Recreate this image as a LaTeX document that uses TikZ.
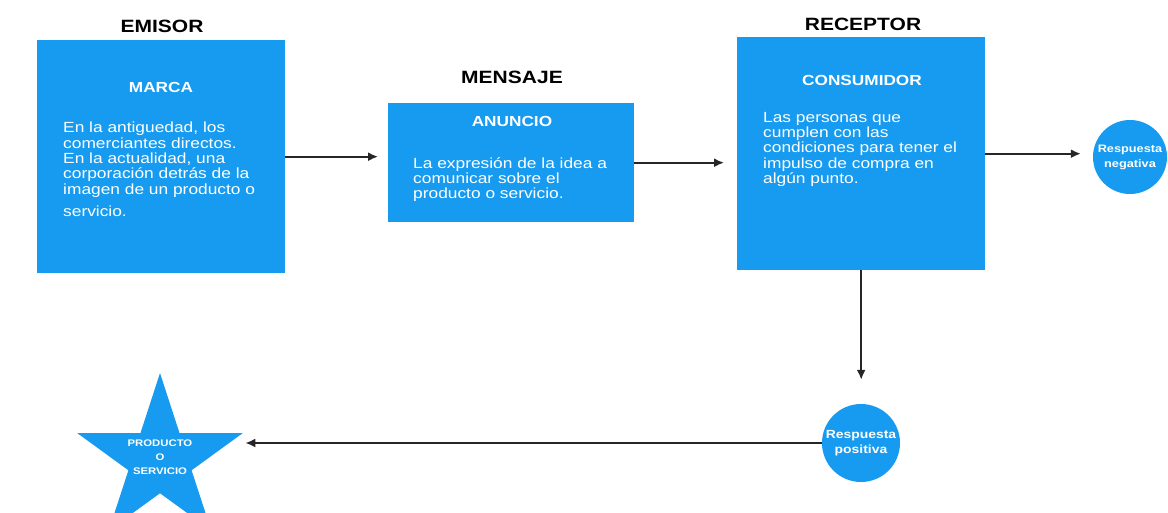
\documentclass[tikz,border=0pt]{standalone}
\usepackage{fontspec}
\setmainfont{Liberation Sans}[FakeStretch=1.18]
\usepackage{tikz}
\usetikzlibrary{shapes.geometric,arrows.meta,positioning}
\definecolor{azul}{RGB}{22,155,240}
\tikzset{
    caja/.style={fill=azul, inner sep=0pt, anchor=north west},
    cabeza/.style={inner sep=0pt, font=\fontsize{17.8}{20}\selectfont\bfseries},
    titulo/.style={inner sep=0pt, text=white, font=\fontsize{14.6}{16}\selectfont\bfseries},
    cuerpo/.style={text=white, align=left, inner sep=0pt, anchor=north west, font=\fontsize{14.7}{15.3}\selectfont},
    respuesta/.style={circle, fill=azul, text=white, align=center, inner sep=0pt, font=\fontsize{10.8}{15}\selectfont\bfseries},
    flecha/.style={-{Latex[length=10pt,width=9pt]}, line width=1.8pt, black!85}
}

\begin{document}
\begin{tikzpicture}[x=1pt, y=-1pt]
        \useasboundingbox (0,0) rectangle (1168,512);
        \node[caja, minimum width=248, minimum height=233] (marca) at (37,40) {};
        \node[caja, minimum width=246, minimum height=119] (anuncio) at (388,103) {};
        \node[caja, minimum width=248, minimum height=233] (consumidor) at (737,37) {};
        \foreach \nombre/\px/\py/\txt in {emisor/162/26/EMISOR, mensaje/512/77/MENSAJE, receptor/863/24/RECEPTOR} {
            \node[cabeza] (\nombre) at (\px,\py) {\txt};
        }
        \node[titulo] (marca-t) at (161,87) {MARCA};
        \node[titulo] (anuncio-t) at (512,121) {ANUNCIO};
        \node[titulo] (consumidor-t) at (862,80) {CONSUMIDOR};
        \node[cuerpo] (marca-c) at (63,122) {En la antiguedad, los\\comerciantes directos.\\En la actualidad, una\\corporación detrás de la\\imagen de un producto o\\[7pt]servicio.};
        \node[cuerpo] (anuncio-c) at (413,157) {La expresión de la idea a\\comunicar sobre el\\producto o servicio.};
        \node[cuerpo] (consumidor-c) at (763,112) {Las personas que\\cumplen con las\\condiciones para tener el\\impulso de compra en\\algún punto.};
        \node[respuesta, minimum size=74] (negativa) at (1130,157) {Respuesta\\negativa};
        \node[respuesta, minimum size=78, font=\fontsize{11.8}{15}\selectfont\bfseries] (positiva) at (861,443) {Respuesta\\positiva};
        \node[star, star points=5, star point ratio=2.618, minimum size=174, fill=azul, inner sep=0pt] (producto) at (160,460) {};
        \node[text=white, align=center, inner sep=0pt, font=\fontsize{9.6}{14}\selectfont\bfseries] (producto-t) at (160,457) {PRODUCTO\\O\\SERVICIO};
        \draw[flecha, shorten >=10pt] (marca.east) -- (marca.east -| anuncio.west);
        \draw[flecha, shorten >=13pt] (anuncio.east) -- (anuncio.east -| consumidor.west);
        \draw[flecha, shorten >=12pt] (consumidor.east) -- (consumidor.east -| negativa.west);
        \draw[flecha, shorten >=24pt] (consumidor.south) -- (consumidor.south |- positiva.north);
        \draw[flecha, shorten >=2pt] (positiva.west) -- (positiva.west -| producto.outer point 5);
\end{tikzpicture}
\end{document}
